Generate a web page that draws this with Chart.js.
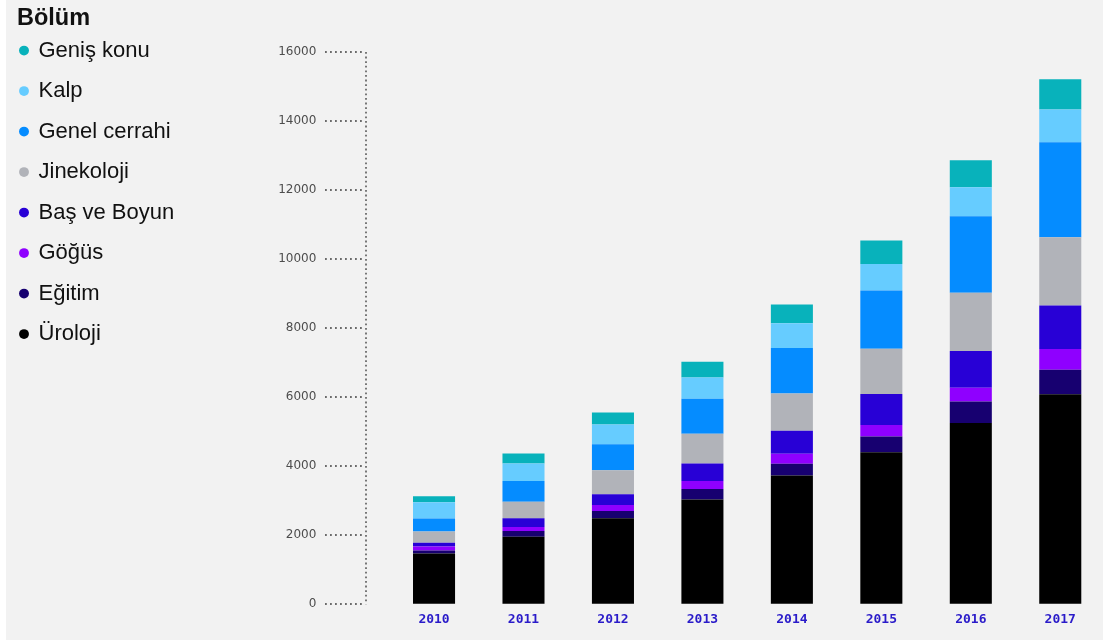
<!DOCTYPE html>
<html lang="tr">
<head>
<meta charset="utf-8">
<title>Bölüm</title>
<script src="https://cdn.jsdelivr.net/npm/chart.js@4"></script>
<style>
    html, body { margin: 0; padding: 0; overflow: hidden; background: #ffffff; }
    #fundo { position: absolute; left: 6px; top: 0; width: 1097px; height: 640px; background: #f2f2f2; }
    #grafico { position: absolute; left: 0; top: 0; }
</style>
</head>
<body>
<div id="fundo"></div>
<canvas id="grafico" width="1105" height="644"></canvas>
<script>
// dados
const anos = ['2010', '2011', '2012', '2013', '2014', '2015', '2016', '2017'];
const uroloji = [1472, 1954, 2489, 3035, 3726, 4405, 5248, 6084];
const egitim = [85, 166, 212, 305, 340, 453, 627, 711];
const gogus = [116, 116, 174, 232, 290, 331, 398, 601];
const basBoyun = [107, 253, 311, 502, 668, 900, 1066, 1257];
const jinekoloji = [328, 482, 697, 862, 1083, 1316, 1684, 1983];
const genelCerrahi = [378, 601, 755, 1016, 1318, 1684, 2216, 2750];
const kalp = [465, 502, 569, 619, 714, 770, 842, 950];
const genisKonu = [174, 290, 348, 456, 543, 682, 784, 871];
const yTicks = [0, 2000, 4000, 6000, 8000, 10000, 12000, 14000, 16000];

const series = [
    { label: 'Üroloji', data: uroloji, color: '#000000' },
    { label: 'Eğitim', data: egitim, color: '#170070' },
    { label: 'Göğüs', data: gogus, color: '#8f00ff' },
    { label: 'Baş ve Boyun', data: basBoyun, color: '#2800d6' },
    { label: 'Jinekoloji', data: jinekoloji, color: '#b1b3b9' },
    { label: 'Genel cerrahi', data: genelCerrahi, color: '#058cff' },
    { label: 'Kalp', data: kalp, color: '#66ccff' },
    { label: 'Geniş konu', data: genisKonu, color: '#08b2bb' }
];

const PLOT_LEFT = 389.3; // início da área dos dados
const AXIS_GAP = 23;     // linha pontilhada fica à esquerda das barras

// eixo y pontilhado desenhado a partir da escala
const eixoPontilhado = {
    id: 'eixoPontilhado',
    beforeDatasetsDraw(chart) {
        const ctx = chart.ctx;
        const y = chart.scales.y;
        const xAxis = Math.round(chart.chartArea.left - AXIS_GAP);
        ctx.save();
        ctx.strokeStyle = '#6a6a6a';
        ctx.lineWidth = 1.8;
        ctx.setLineDash([1.8, 3.2]);
        y.ticks.forEach(t => {
            const py = Math.round(y.getPixelForValue(t.value));
            ctx.beginPath();
            ctx.moveTo(xAxis - 41, py);
            ctx.lineTo(xAxis - 4, py);
            ctx.stroke();
        });
        ctx.setLineDash([1.8, 2.8]);
        ctx.beginPath();
        ctx.moveTo(xAxis, y.getPixelForValue(16000));
        ctx.lineTo(xAxis, y.getPixelForValue(0));
        ctx.stroke();
        ctx.restore();
    }
};

window.addEventListener('load', function () {
    const ctx = document.getElementById('grafico').getContext('2d');
    new Chart(ctx, {
        type: 'bar',
        data: {
            labels: anos,
            datasets: series.map(s => ({
                label: s.label,
                data: s.data,
                backgroundColor: s.color,
                borderWidth: 0,
                categoryPercentage: 1,
                barPercentage: 0.47
            }))
        },
        options: {
            responsive: false,
            animation: false,
            devicePixelRatio: 1,
            layout: { padding: { left: 17, top: 0, right: 0, bottom: 9.6 } },
            scales: {
                x: {
                    stacked: true,
                    grid: { display: false, drawTicks: false },
                    border: { display: false },
                    ticks: {
                        color: '#2a1bc9',
                        padding: 7.3,
                        font: { family: 'DejaVu Sans Mono', size: 13, weight: 'bold' }
                    }
                },
                y: {
                    stacked: true,
                    min: 0,
                    max: 16000,
                    afterBuildTicks: s => { s.ticks = yTicks.map(v => ({ value: v })); },
                    afterFit: s => { s.width = PLOT_LEFT - 17 - s.chart.legend.width; },
                    // marcas invisíveis só para afastar os rótulos
                    grid: { display: true, drawOnChartArea: false, drawTicks: true, tickLength: 70, color: 'rgba(0,0,0,0)' },
                    border: { display: false },
                    ticks: {
                        color: '#4d4d4d',
                        padding: 3,
                        callback: v => String(v),
                        font: { family: 'DejaVu Sans', size: 12 }
                    }
                }
            },
            plugins: {
                // título vazio só reserva o espaço de cima
                title: { display: true, text: '', padding: 0, font: { size: 10, lineHeight: 5.2 } },
                tooltip: { enabled: false },
                legend: {
                    position: 'left',
                    align: 'start',
                    reverse: true,
                    title: {
                        display: true,
                        text: 'Bölüm',
                        position: 'start',
                        color: '#111111',
                        padding: { top: 6.75, bottom: 1.15 },
                        font: { family: 'Liberation Sans', size: 23.5, weight: 'bold' }
                    },
                    labels: {
                        usePointStyle: true,
                        pointStyle: 'circle',
                        boxWidth: 7,
                        boxHeight: 7,
                        padding: 3.5,
                        color: '#111111',
                        font: { family: 'Liberation Sans', size: 22, lineHeight: 37 / 22 },
                        generateLabels: chart => {
                            const itens = Chart.defaults.plugins.legend.labels.generateLabels(chart);
                            itens.forEach(i => { i.text = [i.text]; });
                            return itens;
                        }
                    }
                }
            }
        },
        plugins: [eixoPontilhado]
    });
});
</script>
</body>
</html>
